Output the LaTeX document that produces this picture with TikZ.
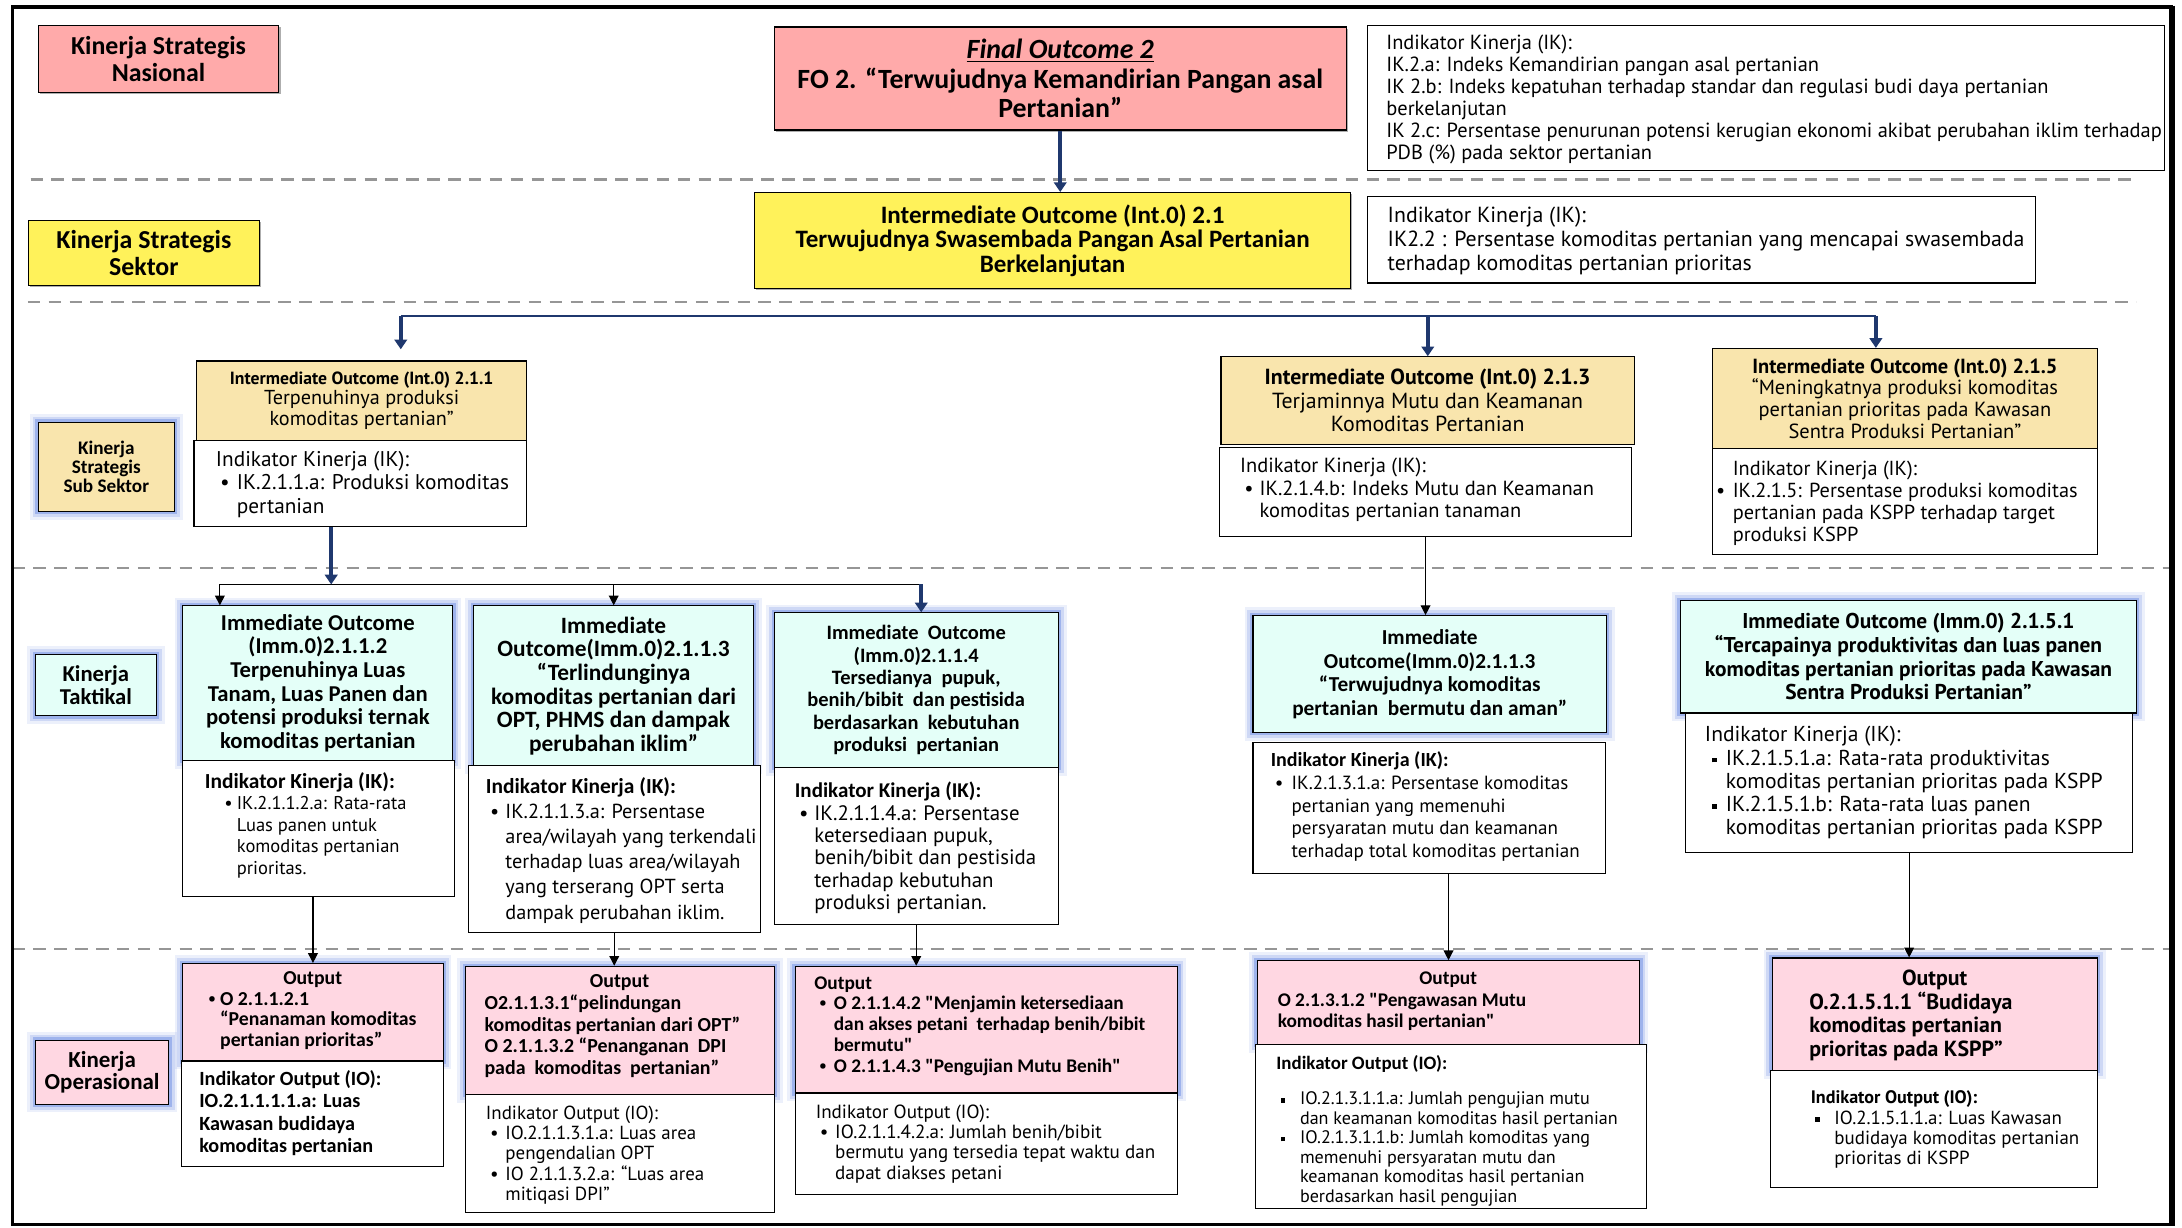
\documentclass[tikz,border=0pt]{standalone}
\usepackage{fontspec}
\setmainfont{PT Sans}
\newfontfamily\cf{Carlito}
\usetikzlibrary{arrows.meta,shadows}
\definecolor{fopink}{RGB}{255,170,170}
\definecolor{ylw}{RGB}{255,242,90}
\definecolor{beige}{RGB}{249,229,173}
\definecolor{lcyan}{RGB}{228,255,248}
\definecolor{lpink}{RGB}{255,215,226}
\definecolor{navy}{RGB}{31,56,110}
\definecolor{dgray}{RGB}{150,150,150}
\definecolor{glowc}{RGB}{70,110,220}
\newcommand\fs[2]{\fontsize{#1}{#2}\selectfont}
\newcommand\bul[1][11pt]{\makebox[#1][l]{\rmfamily\mdseries •}}
\newcommand\ind[1][11pt]{\hspace*{#1}}
\newcommand\sqb[1][14pt]{\makebox[#1][l]{\rule[0.25ex]{3.3pt}{3.3pt}}}
\tikzset{
 box/.style={draw=black, line width=0.8pt, anchor=north west, inner sep=0pt},
 cbox/.style={box, align=center},
 txt/.style={anchor=north west, align=left, inner sep=0pt},
 shad/.style={drop shadow={shadow xshift=1.2pt, shadow yshift=-1.2pt, opacity=0.45, fill=black!70}},
 glow/.style={preaction={draw=glowc, line width=12pt, opacity=0.10}, preaction={draw=glowc, line width=8pt, opacity=0.18}, preaction={draw=glowc, line width=4pt, opacity=0.35}},
 navA/.style={draw=navy, line width=2.6pt, -{Triangle[length=7pt,width=9pt]}},
 navL/.style={draw=navy, line width=1.3pt},
 blkA/.style={draw=black, line width=0.9pt, -{Triangle[length=7pt,width=7pt]}},
 blkL/.style={draw=black, line width=0.9pt},
 dsh/.style={draw=dgray, line width=1.8pt, dash pattern=on 9pt off 6pt},
}
\begin{document}
\begin{tikzpicture}[x=1pt,y=-1pt]
\useasboundingbox (0,0) rectangle (1568,882);
\fill[white] (0,0) rectangle (1568,882);
% dashed separators
\draw[dsh] (22,129) -- (1535,129);
\draw[dsh] (20,217) -- (1535,217);
\draw[dsh] (9,408) -- (1560,408);
\draw[dsh] (9,682) -- (1560,682);
% outer frame
\draw[line width=2.5pt] (9,5) rectangle (1560,880);
\draw[line width=4.5pt] (1561,4) -- (1561,881);

% ---------- national ----------
\node[cbox, fill=fopink, shad, minimum width=173pt, minimum height=48pt, font=\cf\bfseries\fs{18.6}{19}] (nas) at (27,18) {Kinerja Strategis\\Nasional};
\node[cbox, fill=fopink, shad, minimum width=411pt, minimum height=74pt, font=\cf\bfseries\fs{20}{21}] (fo) at (556,19) {\underline{\textit{Final Outcome 2}}\\FO 2. “Terwujudnya Kemandirian Pangan asal\\Pertanian”};
\node[box, fill=white, minimum width=573pt, minimum height=104pt] (ikfo) at (982,18) {};
\node[txt, font=\fs{14.7}{15.8}] (ikfot) at ([shift={(14,7)}]ikfo.north west) {Indikator Kinerja (IK):\\IK.2.a: Indeks Kemandirian pangan asal pertanian\\IK 2.b: Indeks kepatuhan terhadap standar dan regulasi budi daya pertanian\\berkelanjutan\\IK 2.c: Persentase penurunan potensi kerugian ekonomi akibat perubahan iklim terhadap\\PDB (\%) pada sektor pertanian};

% ---------- sector ----------
\node[cbox, fill=ylw, shad, minimum width=166pt, minimum height=47pt, font=\cf\bfseries\fs{18.6}{19}] (sek) at (20,158) {Kinerja Strategis\\Sektor};
\node[cbox, fill=ylw, shad, minimum width=428pt, minimum height=69pt, font=\cf\bfseries\fs{18}{17.5}] (int21) at (542,138) {Intermediate Outcome (Int.0) 2.1\\Terwujudnya Swasembada Pangan Asal Pertanian\\Berkelanjutan};
\node[box, fill=white, minimum width=480pt, minimum height=62pt] (ik22) at (982,141) {};
\node[txt, font=\fs{15.7}{17}] (ik22t) at ([shift={(15,7.7)}]ik22.north west) {Indikator Kinerja (IK):\\IK2.2 : Persentase komoditas pertanian yang mencapai swasembada\\terhadap komoditas pertanian prioritas};

% ---------- sub sector ----------
\node[cbox, fill=beige, glow, minimum width=98pt, minimum height=64pt, font=\cf\bfseries\fs{13.8}{13.5}] (kss) at (27,303) {Kinerja\\Strategis\\Sub Sektor};
\node[cbox, fill=beige, minimum width=237pt, minimum height=57pt, font=\fs{14.5}{15}] (io211) at (141,259) {{\bfseries\fs{12.7}{15}Intermediate Outcome (Int.0) 2.1.1}\\Terpenuhinya produksi\\komoditas pertanian”};
\node[box, fill=white, minimum width=239pt, minimum height=62pt] (ik211) at (139,316) {};
\node[txt, font=\fs{15.3}{17}] (ik211t) at ([shift={(16,7.8)}]ik211.north west) {Indikator Kinerja (IK):\\\ind[3pt]\bul[12pt]IK.2.1.1.a: Produksi komoditas\\\ind[15pt]pertanian};

\node[cbox, fill=beige, minimum width=297pt, minimum height=63pt, font=\fs{15.7}{17}] (io213) at (877,256) {{\bfseries Intermediate Outcome (Int.0) 2.1.3}\\Terjaminnya Mutu dan Keamanan\\Komoditas Pertanian};
\node[box, fill=white, minimum width=296pt, minimum height=64pt] (ik213) at (876,321) {};
\node[txt, font=\fs{14.7}{16}] (ik213t) at ([shift={(15,8.1)}]ik213.north west) {Indikator Kinerja (IK):\\\ind[3pt]\bul[11pt]IK.2.1.4.b: Indeks Mutu dan Keamanan\\\ind[14pt]komoditas pertanian tanaman};

\node[cbox, fill=beige, minimum width=277pt, minimum height=72pt, font=\fs{14.7}{15.5}] (io215) at (1230,250) {{\bfseries Intermediate Outcome (Int.0) 2.1.5}\\“Meningkatnya produksi komoditas\\pertanian prioritas pada Kawasan\\Sentra Produksi Pertanian”};
\node[box, fill=white, minimum width=277pt, minimum height=76pt] (ik215) at (1230,322) {};
\node[txt, font=\fs{14.6}{15.7}] (ik215t) at ([shift={(15,9.2)}]ik215.north west) {Indikator Kinerja (IK):\\\hspace*{-12pt}\bul[12pt]IK.2.1.5: Persentase produksi komoditas\\pertanian pada KSPP terhadap target\\produksi KSPP};

% ---------- tactical ----------
\node[cbox, fill=lcyan, glow, minimum width=87pt, minimum height=44pt, font=\cf\bfseries\fs{16.3}{17}] (kt) at (25,470) {Kinerja\\Taktikal};

\node[cbox, fill=lcyan, glow, minimum width=194pt, minimum height=111pt, font=\cf\bfseries\fs{16.3}{17}] (imm2112) at (131,435) {Immediate Outcome\\(Imm.0)2.1.1.2\\Terpenuhinya Luas\\Tanam, Luas Panen dan\\potensi produksi ternak\\komoditas pertanian};
\node[box, fill=white, minimum width=195pt, minimum height=98pt] (ik2112) at (131,546) {};
\node[txt, font=\fs{13.3}{15.5}] (ik2112t) at ([shift={(16,8.8)}]ik2112.north west) {{\cf\bfseries\fs{15.4}{15.5}Indikator Kinerja (IK):}\\\ind[14pt]\bul[9pt]IK.2.1.1.2.a: Rata-rata\\\ind[23pt]Luas panen untuk\\\ind[23pt]komoditas pertanian\\\ind[23pt]prioritas.};

\node[cbox, fill=lcyan, glow, minimum width=201pt, minimum height=115pt, font=\cf\bfseries\fs{16.8}{17}] (imm2113) at (340,435) {Immediate\\Outcome(Imm.0)2.1.1.3\\“Terlindunginya\\komoditas pertanian dari\\OPT, PHMS dan dampak\\perubahan iklim”};
\node[box, fill=white, minimum width=210pt, minimum height=120pt] (ik2113) at (336,550) {};
\node[txt, font=\fs{14.6}{18}] (ik2113t) at ([shift={(13,8.8)}]ik2113.north west) {{\cf\bfseries\fs{15.4}{18}Indikator Kinerja (IK):}\\\ind[3pt]\bul[11pt]IK.2.1.1.3.a: Persentase\\\ind[14pt]area/wilayah yang terkendali\\\ind[14pt]terhadap luas area/wilayah\\\ind[14pt]yang terserang OPT serta\\\ind[14pt]dampak perubahan iklim.};

\node[cbox, fill=lcyan, glow, minimum width=204pt, minimum height=111pt, font=\cf\bfseries\fs{14.7}{16}] (imm2114) at (556,440) {Immediate\ \ Outcome\\(Imm.0)2.1.1.4\\Tersedianya\ \ pupuk,\\benih/bibit\ \ dan pestisida\\berdasarkan\ \ kebutuhan\\produksi\ \ pertanian};
\node[box, fill=white, minimum width=204pt, minimum height=113pt] (ik2114) at (556,551) {};
\node[txt, font=\fs{15}{16}] (ik2114t) at ([shift={(15,11)}]ik2114.north west) {{\cf\bfseries\fs{15.1}{16}Indikator Kinerja (IK):}\\\ind[3pt]\bul[11pt]IK.2.1.1.4.a: Persentase\\\ind[14pt]ketersediaan pupuk,\\\ind[14pt]benih/bibit dan pestisida\\\ind[14pt]terhadap kebutuhan\\\ind[14pt]produksi pertanian.};

\node[cbox, fill=lcyan, glow, minimum width=254pt, minimum height=84pt, font=\cf\bfseries\fs{15.3}{17}] (imm213r) at (900,442) {Immediate\\Outcome(Imm.0)2.1.1.3\\“Terwujudnya komoditas\\pertanian\ \ bermutu dan aman”};
\node[box, fill=white, minimum width=253pt, minimum height=94pt] (ik213r) at (900,533) {};
\node[txt, font=\fs{13.7}{16.3}] (ik213rt) at ([shift={(13,7.2)}]ik213r.north west) {{\cf\bfseries\fs{14.4}{16.3}Indikator Kinerja (IK):}\\\ind[3pt]\bul[12pt]IK.2.1.3.1.a: Persentase komoditas\\\ind[15pt]pertanian yang memenuhi\\\ind[15pt]persyaratan mutu dan keamanan\\\ind[15pt]terhadap total komoditas pertanian};

\node[cbox, fill=lcyan, glow, minimum width=328pt, minimum height=81pt, font=\bfseries\fs{15.4}{17}] (imm2151) at (1207,431) {Immediate Outcome (Imm.0) 2.1.5.1\\“Tercapainya produktivitas dan luas panen\\komoditas pertanian prioritas pada Kawasan\\Sentra Produksi Pertanian”};
\node[box, fill=white, minimum width=321pt, minimum height=100pt] (ik2151) at (1211,512) {};
\node[txt, font=\fs{15.5}{16.7}] (ik2151t) at ([shift={(14,9.8)}]ik2151.north west) {Indikator Kinerja (IK):\\\ind[5pt]\sqb[10pt]IK.2.1.5.1.a: Rata-rata produktivitas\\\ind[15pt]komoditas pertanian prioritas pada KSPP\\\ind[5pt]\sqb[10pt]IK.2.1.5.1.b: Rata-rata luas panen\\\ind[15pt]komoditas pertanian prioritas pada KSPP};

% ---------- operational ----------
\node[cbox, fill=lpink, glow, minimum width=96pt, minimum height=46pt, font=\cf\bfseries\fs{16.5}{15.5}] (ko) at (25,747) {Kinerja\\Operasional};

\node[box, fill=lpink, glow, minimum width=187pt, minimum height=70pt] (out2112) at (131,692) {};
\node[txt, font=\cf\bfseries\fs{14.2}{14.7}] (out2112t) at ([shift={(18,6.3)}]out2112.north west) {\hspace*{-18pt}\makebox[187pt][c]{Output}\\\bul[9pt]O 2.1.1.2.1\\\ind[9pt]“Penanaman komoditas\\\ind[9pt]pertanian prioritas”};
\node[box, fill=white, minimum width=188pt, minimum height=76pt] (io2112) at (130,762) {};
\node[txt, font=\cf\bfseries\fs{14.5}{16}] (io2112t) at ([shift={(13,7.2)}]io2112.north west) {Indikator Output (IO):\\IO.2.1.1.1.1.a: Luas\\Kawasan budidaya\\komoditas pertanian};

\node[box, fill=lpink, glow, minimum width=222pt, minimum height=92pt] (out2113) at (334,694) {};
\node[txt, font=\cf\bfseries\fs{14.3}{15.5}] (out2113t) at ([shift={(14,6.3)}]out2113.north west) {\hspace*{-14pt}\makebox[222pt][c]{Output}\\O2.1.1.3.1“pelindungan\\komoditas pertanian dari OPT”\\O 2.1.1.3.2 “Penanganan\ \ DPI\\pada\ \ komoditas\ \ pertanian”};
\node[box, fill=white, minimum width=222pt, minimum height=85pt] (io2113) at (334,786) {};
\node[txt, font=\fs{13.6}{14.5}] (io2113t) at ([shift={(15,8.6)}]io2113.north west) {Indikator Output (IO):\\\ind[3pt]\bul[11pt]IO.2.1.1.3.1.a: Luas area\\\ind[14pt]pengendalian OPT\\\ind[3pt]\bul[11pt]IO 2.1.1.3.2.a: “Luas area\\\ind[14pt]mitiqasi DPI”};

\node[box, fill=lpink, glow, minimum width=275pt, minimum height=91pt] (out2114) at (571,694) {};
\node[txt, font=\cf\bfseries\fs{13.9}{15}] (out2114t) at ([shift={(14,7.4)}]out2114.north west) {Output\\\ind[3pt]\bul[11pt]O 2.1.1.4.2 "Menjamin ketersediaan\\\ind[14pt]dan akses petani\ \ terhadap benih/bibit\\\ind[14pt]bermutu"\\\ind[3pt]\bul[11pt]O 2.1.1.4.3 "Pengujian Mutu Benih"};
\node[box, fill=white, minimum width=275pt, minimum height=73pt] (io2114) at (571,785) {};
\node[txt, font=\fs{13.7}{14.7}] (io2114t) at ([shift={(15,8.5)}]io2114.north west) {Indikator Output (IO):\\\ind[3pt]\bul[11pt]IO.2.1.1.4.2.a: Jumlah benih/bibit\\\ind[14pt]bermutu yang tersedia tepat waktu dan\\\ind[14pt]dapat diakses petani};

\node[box, fill=lpink, glow, minimum width=275pt, minimum height=60pt] (out2131) at (903,690) {};
\node[txt, font=\cf\bfseries\fs{13.9}{15.5}] (out2131t) at ([shift={(15,8.4)}]out2131.north west) {\hspace*{-15pt}\makebox[275pt][c]{Output}\\O 2.1.3.1.2 "Pengawasan Mutu\\komoditas hasil pertanian"};
\node[box, fill=white, minimum width=281pt, minimum height=118pt] (io2131) at (902,750) {};
\node[txt, font=\fs{13}{14}] (io2131t) at ([shift={(15,8.6)}]io2131.north west) {{\cf\bfseries\fs{13.6}{14}Indikator Output (IO):}\\[11pt]\ind[3pt]\sqb[14pt]IO.2.1.3.1.1.a: Jumlah pengujian mutu\\\ind[17pt]dan keamanan komoditas hasil pertanian\\\ind[3pt]\sqb[14pt]IO.2.1.3.1.1.b: Jumlah komoditas yang\\\ind[17pt]memenuhi persyaratan mutu dan\\\ind[17pt]keamanan komoditas hasil pertanian\\\ind[17pt]berdasarkan hasil pengujian};

\node[box, fill=lpink, glow, minimum width=234pt, minimum height=81pt] (out2151) at (1273,688) {};
\node[txt, font=\bfseries\fs{15.7}{17}] (out2151t) at ([shift={(27,8.7)}]out2151.north west) {\hspace*{-27pt}\makebox[234pt][c]{Output}\\O.2.1.5.1.1 “Budidaya\\komoditas pertanian\\prioritas pada KSPP”};
\node[box, fill=white, minimum width=235pt, minimum height=84pt] (io2151) at (1272,769) {};
\node[txt, font=\fs{13.6}{14.5}] (io2151t) at ([shift={(29,14.8)}]io2151.north west) {{\bfseries\fs{13}{14.5}Indikator Output (IO):}\\\ind[3pt]\sqb[14pt]IO.2.1.5.1.1.a: Luas Kawasan\\\ind[17pt]budidaya komoditas pertanian\\\ind[17pt]prioritas di KSPP};

% ---------- connectors ----------
\draw[navA] (fo.south) -- (fo.south |- int21.north);
\coordinate (b1) at (288,227);
\coordinate (b2) at (1348,227);
\coordinate (b3) at (1026,227);
\draw[navL] (b1) -- (b2);
\draw[navA, shorten >=8pt] (b1) -- (b1 |- io211.north);
\draw[navA] (b3) -- (b3 |- io213.north);
\draw[navA] (b2) -- (b2 |- io215.north);

\coordinate (t0) at (238,420);
\coordinate (t1) at (158,420);
\coordinate (t2) at (662,420);
\coordinate (t3) at (441,420);
\draw[blkL] (t1) -- (t2);
\draw[navA] (ik211.south -| t0) -- (t0);
\draw[blkA] (t1) -- (t1 |- imm2112.north);
\draw[blkA] (t3) -- (t3 |- imm2113.north);
\draw[navA] (t2) -- (t2 |- imm2114.north);
\draw[blkA] (ik213.south) -- (ik213.south |- imm213r.north);

\draw[blkA] (ik2112.south -| out2112.north) -- (out2112.north);
\draw[blkA] (ik2113.south) -- (ik2113.south |- out2113.north);
\draw[blkA] (ik2114.south) -- (ik2114.south |- out2114.north);
\draw[blkA] (ik213r.south -| out2131.north) -- (out2131.north);
\draw[blkA] (ik2151.south) -- (ik2151.south |- out2151.north);
\end{tikzpicture}
\end{document}
